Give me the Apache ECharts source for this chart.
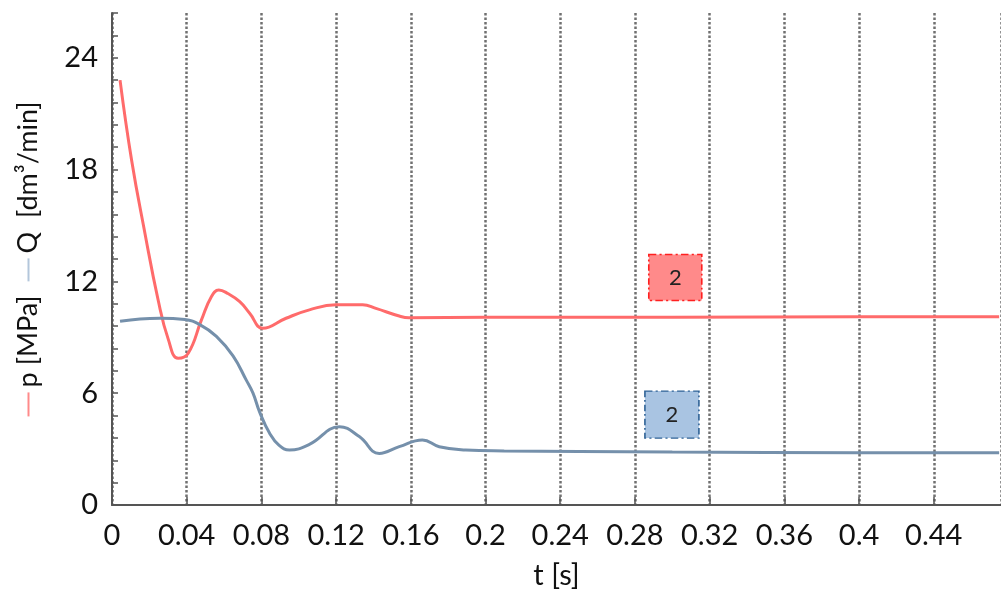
<!DOCTYPE html>
<html>
<head>
<meta charset="utf-8">
<script src="https://cdn.jsdelivr.net/npm/echarts@6/dist/echarts.min.js"></script>
<style>
  html, body { margin: 0; padding: 0; background: #fff; }
  #chart { width: 1001px; height: 597px; }
</style>
</head>
<body>
<div id="chart"></div>
<script>
// p [MPa] curve
var pTime  = [0.0043, 0.0105, 0.0176, 0.0247, 0.0301, 0.0354, 0.0408, 0.0479, 0.0532, 0.0572, 0.062, 0.0684, 0.0737, 0.0808, 0.0932, 0.1057, 0.12, 0.1342, 0.1413, 0.1538, 0.159, 0.2, 0.3, 0.4, 0.475];
var pValue = [22.8, 18.5, 14.6, 11.0, 8.9, 7.87, 8.14, 9.93, 11.18, 11.54, 11.35, 10.91, 10.29, 9.48, 10.02, 10.47, 10.74, 10.74, 10.55, 10.14, 10.05, 10.07, 10.08, 10.1, 10.1];

// Q [dm3/min] curve
var qTime  = [0.0043, 0.015, 0.0256, 0.039, 0.047, 0.0559, 0.0648, 0.0719, 0.0755, 0.079, 0.0844, 0.0895, 0.095, 0.1057, 0.1218, 0.1324, 0.1431, 0.1538, 0.1662, 0.1752, 0.1894, 0.21, 0.25, 0.3, 0.4, 0.475];
var qValue = [9.86, 9.98, 10.02, 9.95, 9.68, 9.05, 8.0, 6.7, 6.0, 5.0, 3.85, 3.2, 2.95, 3.25, 4.2, 3.67, 2.77, 3.13, 3.49, 3.13, 2.95, 2.9, 2.87, 2.84, 2.81, 2.8];

// the "2" boxes (centre, in data units)
var pBox = [0.3016, 12.21];
var qBox = [0.2998, 4.85];
var boxLabel = '2';

function zip(a, b) {
  return a.map(function (v, i) { return [v, b[i]]; });
}

var font = 'Lato';
var ink = '#111';
var chart = echarts.init(document.getElementById('chart'));

var option = {
  backgroundColor: '#fff',
  animation: false,
  grid: { left: 112, right: -3, top: 13, bottom: 92 },
  xAxis: {
    type: 'value',
    min: 0,
    max: 0.476,
    interval: 0.04,
    name: 't [s]',
    nameLocation: 'middle',
    nameGap: 56,
    nameTextStyle: { fontFamily: font, fontSize: 29, color: ink },
    axisLine: { lineStyle: { color: '#555', width: 2 } },
    axisTick: { inside: true, length: 8, lineStyle: { color: '#555', width: 1.5 } },
    axisLabel: {
      showMaxLabel: false,
      margin: 16,
      fontFamily: font, fontSize: 29, color: ink
    },
    splitLine: { show: true, lineStyle: { color: '#707070', width: 2.5, type: [2.5, 2] } }
  },
  yAxis: {
    type: 'value',
    min: 0,
    max: 26.4,
    interval: 1.2,
    // coloured dashes are little filled rich-text boxes, like the key marks in the picture
    name: '{r| }{s| }p [MPa]{w| }{b| }{s| }Q  [dm³/min]',
    nameLocation: 'middle',
    nameRotate: 90,
    nameGap: 70,
    nameTextStyle: {
      fontFamily: font, fontSize: 27, color: ink,
      rich: {
        r: { width: 24, height: 2, backgroundColor: '#ff8a8a', fontSize: 2, verticalAlign: 'middle' },
        b: { width: 23, height: 2, backgroundColor: '#b3c6db', fontSize: 2, verticalAlign: 'middle' },
        s: { width: 5, fontSize: 27 },
        w: { width: 14, fontSize: 27 }
      }
    },
    axisLine: { show: true, lineStyle: { color: '#555', width: 2 } },
    axisTick: { show: true, inside: true, length: 6, lineStyle: { color: '#555', width: 1.5 } },
    axisLabel: {
      margin: 14,
      fontFamily: font, fontSize: 29, color: ink,
      formatter: function (v) {
        var k = v / 6;
        return Math.abs(k - Math.round(k)) < 1e-6 ? String(Math.round(v)) : '';
      }
    },
    splitLine: { show: false }
  },
  series: [
    {
      name: 'p',
      type: 'line',
      data: zip(pTime, pValue),
      showSymbol: false,
      smooth: 0.45,
      lineStyle: { color: '#ff6b6b', width: 3 },
      markPoint: {
        symbol: 'rect',
        symbolSize: [53, 46],
        itemStyle: { color: '#ff8a8a', borderColor: '#ff2020', borderWidth: 1.5, borderType: [7, 3, 2, 3] },
        label: { show: true, formatter: boxLabel, fontFamily: font, fontSize: 22, color: '#222' },
        data: [{ coord: pBox }]
      }
    },
    {
      name: 'Q',
      type: 'line',
      data: zip(qTime, qValue),
      showSymbol: false,
      smooth: 0.45,
      lineStyle: { color: '#7590ab', width: 3 },
      markPoint: {
        symbol: 'rect',
        symbolSize: [54, 47],
        itemStyle: { color: '#a9c4e2', borderColor: '#2f6296', borderWidth: 1.5, borderType: [7, 3, 2, 3] },
        label: { show: true, formatter: boxLabel, fontFamily: font, fontSize: 22, color: '#222' },
        data: [{ coord: qBox }]
      }
    }
  ]
};

chart.setOption(option);
</script>
</body>
</html>
